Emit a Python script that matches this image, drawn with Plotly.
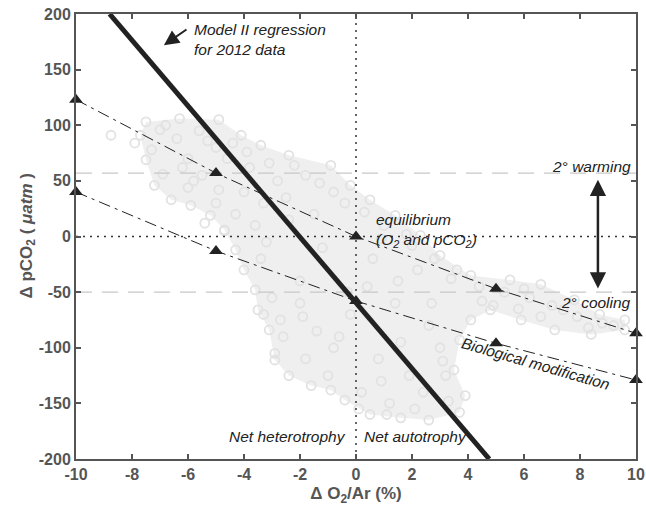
import plotly.graph_objects as go

# ---------------- data ----------------
# Model II regression line (2012 data), end points
REG_X = [-8.8, 4.76]
REG_Y = [200, -200]

# equilibrium / temperature line (upper) and biological modification line (lower)
TRI_X = [-10, -5, 0, 5, 10]
UPPER_Y = [123, 57, 0, -47, -87]
LOWER_Y = [40, -13, -58, -96, -129]

# 2 degree warming / cooling reference levels
WARM_LEVEL = 57
COOL_LEVEL = -50
X_RANGE = [-10, 10]
Y_RANGE = [-200, 200]

X_TICKS = [-10, -8, -6, -4, -2, 0, 2, 4, 6, 8, 10]
X_TICKTEXT = ["-10", "-8", "-6", "-4", "-2", "0", "2", "4", "6", "8", "10"]
Y_TICKS = [-200, -150, -100, -50, 0, 50, 100, 150, 200]
Y_TICKTEXT = ["-200", "-150", "-100", "-50", "0", "50", "100", "150", "200"]

# observation cloud outline (dense core)
CLOUD_X = [-7.5, -6.3, -4.9, -4.1, -3.4, -2.4, -0.9, -0.2, 0.5, 1.4, 2.3, 3.0, 4.1, 5.5,
           6.6, 7.8, 8.7, 9.6, 9.6, 8.4, 7.1, 5.9, 4.8, 4.1, 3.7, 3.5, 3.9, 3.7, 2.6, 1.6,
           0.5, -0.4, -0.9, -1.6, -2.4, -2.9, -3.1, -3.5, -3.6, -4.0, -4.3, -4.7, -5.2,
           -5.9, -6.6, -7.2, -7.5, -7.7]
CLOUD_Y = [103, 106, 105, 91, 82, 73, 64, 46, 33, 19, 1, -17, -35, -39,
           -43, -57, -70, -75, -84, -88, -84, -75, -66, -75, -93, -120, -143, -158, -165, -163,
           -160, -147, -138, -134, -125, -111, -84, -66, -48, -30, -12, 6, 19,
           28, 33, 46, 69, 91]

# scattered individual observations
PTS_X = [-8.75, -7.9, -7.0, -6.4, -5.6, -5.0, -6.2, -5.5, -6.0, -4.6, -3.8, -2.8, -1.8, -0.8,
         0.3, 1.0, 1.8, 2.8, 3.6, 4.4, 5.3, 6.2, 7.0, 7.9, 8.8, 5.8, 4.5, 6.6, -4.3, -3.6,
         -3.2, -2.4, -1.2, -2.0, -3.0, -2.6, -1.8, -1.0, 0.2, 1.2, 2.4, 3.2, 3.0, 2.6, 1.6,
         0.8, -0.6, -0.2, 1.4, 2.2, 0.6, -1.5, -2.5, -4.0, -5.0,
         -7.3, -6.8, -6.0, -5.3, -4.4, -3.9, -3.1, -2.2, -1.3, -0.4, 0.9, 2.0, 3.4, 4.9,
         6.0, 7.4, 8.3, 9.2, -6.9, -5.8, -4.9, -3.3, -3.4, -3.3, -2.7, -2.0, -1.4, -0.3,
         0.4, 1.5, 2.7, 3.3, 3.1, 1.9, 0.9, -0.8, -1.9, -2.9, 0.1, 1.1, 2.1, -4.7, -5.4]
PTS_Y = [91, 84, 96, 88, 95, 80, 62, 55, 44, 70, 62, 50, 55, 40,
         22, 10, 2, -20, -30, -45, -50, -55, -62, -72, -78, -65, -58, -72, 20, 10,
         -5, 15, -10, -40, -55, -90, -110, -125, -140, -150, -140, -125, -100, -80, -95,
         -110, -90, -70, -60, -30, -20, 20, 35, 40, 30,
         78, 100, 70, 86, 84, 76, 66, 64, 48, 30, -2, -8, -38, -62,
         -47, -66, -82, -80, 56, 50, 42, 30, -20, -70, -75, -60, -85, -50,
         -45, -40, -60, -148, -112, -125, -130, -100, -72, -105, -155, -160, -155, 5, 12]

INK = "#222222"
AXIS = "#555555"
FONT = "Liberation Sans, Arial, Helvetica, sans-serif"

fig = go.Figure()

# cloud core
fig.add_trace(go.Scatter(x=CLOUD_X + [CLOUD_X[0]], y=CLOUD_Y + [CLOUD_Y[0]], mode="lines",
                         fill="toself", fillcolor="#efefef", line=dict(width=0),
                         hoverinfo="skip", showlegend=False))
# individual circles
fig.add_trace(go.Scatter(x=CLOUD_X + PTS_X, y=CLOUD_Y + PTS_Y, mode="markers",
                         marker=dict(symbol="circle-open", size=9, color="#e2e2e2",
                                     line=dict(width=1.8, color="#e2e2e2")),
                         showlegend=False))

# warming / cooling reference lines
for lvl in (WARM_LEVEL, COOL_LEVEL):
    fig.add_trace(go.Scatter(x=X_RANGE, y=[lvl, lvl], mode="lines",
                             line=dict(color="#c8c8c8", width=1.2, dash="16px,10px"),
                             showlegend=False))

# zero lines (dotted)
fig.add_trace(go.Scatter(x=X_RANGE, y=[0, 0], mode="lines",
                         line=dict(color="#333333", width=1.5, dash="2px,5px"), showlegend=False))
fig.add_trace(go.Scatter(x=[0, 0], y=Y_RANGE, mode="lines",
                         line=dict(color="#333333", width=1.5, dash="2px,5px"), showlegend=False))

# regression line
fig.add_trace(go.Scatter(x=REG_X, y=REG_Y, mode="lines",
                         line=dict(color=INK, width=5), showlegend=False))

# dash-dot lines with triangles
for ys in (UPPER_Y, LOWER_Y):
    fig.add_trace(go.Scatter(x=TRI_X, y=ys, mode="lines+markers",
                             line=dict(color=INK, width=1, dash="12px,5px,3px,5px"),
                             marker=dict(symbol="triangle-up", size=12, color=INK),
                             cliponaxis=False, showlegend=False))

ann_font = dict(family=FONT, size=15.5, color=INK, style="italic")
annotations = [
    # model II arrow
    dict(x=-6.86, y=172, ax=-6.0, ay=187, xref="x", yref="y", axref="x", ayref="y",
         text="", showarrow=True, arrowhead=2, arrowsize=1.5, arrowwidth=2, arrowcolor=INK),
    dict(x=-5.86, y=177, xref="x", yref="y", text="Model II regression<br>for 2012 data",
         showarrow=False, xanchor="left", yanchor="middle", align="left", font=ann_font),
    dict(x=0.64, y=5, xref="x", yref="y",
         text="equilibrium<br>(O<sub>2</sub> and pCO<sub>2</sub>)",
         showarrow=False, xanchor="left", yanchor="middle", align="left", font=ann_font),
    dict(x=9.9, y=63, xref="x", yref="y", text="2° warming", showarrow=False,
         xanchor="right", yanchor="middle", font=ann_font),
    dict(x=9.9, y=-59, xref="x", yref="y", text="2° cooling", showarrow=False,
         xanchor="right", yanchor="middle", font=ann_font),
    dict(x=6.4, y=-114, xref="x", yref="y", text="Biological modification", showarrow=False,
         textangle=16, xanchor="center", yanchor="middle", font=ann_font),
    dict(x=-0.29, y=-180, xref="x", yref="y", text="Net heterotrophy", showarrow=False,
         xanchor="right", yanchor="middle", font=ann_font),
    dict(x=0.21, y=-180, xref="x", yref="y", text="Net autotrophy", showarrow=False,
         xanchor="left", yanchor="middle", font=ann_font),
    # double arrow 2 degree range
    dict(x=8.64, y=51, ax=8.64, ay=-48, xref="x", yref="y", axref="x", ayref="y",
         text="", showarrow=True, arrowhead=2, startarrowhead=2, arrowside="end+start",
         arrowsize=1.3, startarrowsize=1.3, arrowwidth=2.5, arrowcolor=INK),
    # y axis title
    dict(x=-0.0875, y=0.5, xref="paper", yref="paper", showarrow=False, textangle=-90,
         xanchor="center", yanchor="middle",
         text="Δ pCO<sub>2</sub> ( <i>μatm</i> )",
         font=dict(family=FONT, size=17, color=AXIS, weight="bold")),
]

tick_font = dict(family=FONT, size=16, color=AXIS, weight="bold")
axis_common = dict(showgrid=False, zeroline=False, showline=True, linecolor=AXIS, linewidth=2,
                   mirror="ticks", ticks="inside", ticklen=5, tickwidth=2, tickcolor=AXIS,
                   tickfont=tick_font, automargin=False)

fig.update_layout(
    width=646, height=506,
    margin=dict(l=76, r=10, t=14, b=47),
    plot_bgcolor="white", paper_bgcolor="white",
    xaxis=dict(range=X_RANGE, tickmode="array", tickvals=X_TICKS, ticktext=X_TICKTEXT,
               title=dict(text="Δ O<sub>2</sub>/Ar (%)",
                          font=dict(family=FONT, size=17, color=AXIS, weight="bold")),
               **axis_common),
    yaxis=dict(range=Y_RANGE, tickmode="array", tickvals=Y_TICKS, ticktext=Y_TICKTEXT,
               **axis_common),
    annotations=annotations,
    showlegend=False,
)

fig.write_html("out.html")
